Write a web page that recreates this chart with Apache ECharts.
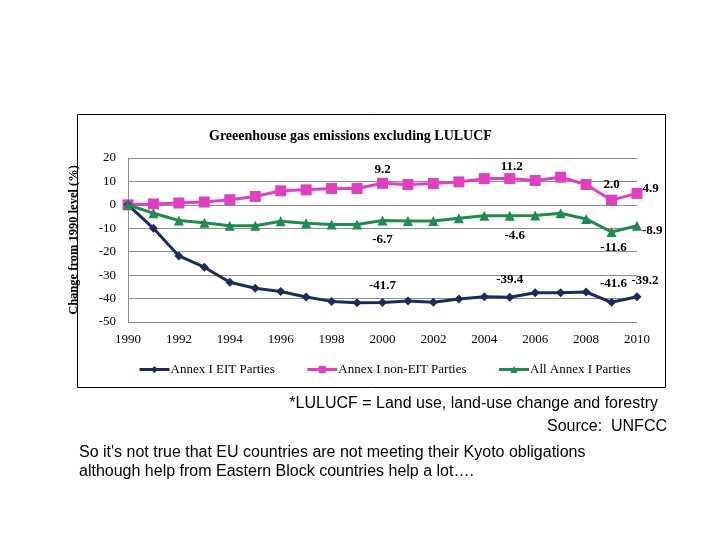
<!DOCTYPE html>
<html>
<head>
<meta charset="utf-8">
<script src="https://cdn.jsdelivr.net/npm/echarts@6/dist/echarts.min.js"></script>
<style>
  html, body { margin: 0; padding: 0; background: #fff; }
  #chart { width: 720px; height: 540px; }
</style>
</head>
<body>
<div id="chart"></div>
<script>
const years = ['1990', '1991', '1992', '1993', '1994', '1995', '1996', '1997', '1998', '1999', '2000',
  '2001', '2002', '2003', '2004', '2005', '2006', '2007', '2008', '2009', '2010']

const eitValues = [0, -10, -21.8, -26.6, -33, -35.6, -37, -39.3, -41.2, -41.8, -41.7,
  -41.0, -41.6, -40.2, -39.2, -39.4, -37.5, -37.5, -37.2, -41.6, -39.2]
const nonEitValues = [0, 0.4, 0.8, 1.2, 2.2, 3.6, 6.0, 6.4, 7.0, 7.0, 9.2,
  8.7, 9.1, 9.8, 11.2, 11.2, 10.4, 11.8, 8.7, 2.0, 4.9]
const allValues = [0, -3.6, -6.7, -7.6, -8.9, -8.9, -7.0, -7.9, -8.4, -8.4, -6.7,
  -6.9, -6.9, -5.7, -4.6, -4.6, -4.5, -3.6, -6.0, -11.6, -8.9]

const yTicks = [-50, -40, -30, -20, -10, 0, 10, 20]

// label placement per labelled year (position, distance, offset)
const eitLabels = {
  2000: ['top', 6, [0, 0]], 2005: ['top', 7, [0, 0]],
  2009: ['top', 8, [2, 0]], 2010: ['top', 5, [8, 0]]
}
const nonEitLabels = {
  2000: ['top', 2, [0, 0]], 2005: ['top', 0, [2, 0]],
  2009: ['top', 4, [0, 0]], 2010: ['right', 0, [0, -5]]
}
const allLabels = {
  2000: ['bottom', 8, [0, 0]], 2005: ['bottom', 9, [5, 0]],
  2009: ['bottom', 4, [2, 0]], 2010: ['right', 0, [0, 5]]
}

const serif = 'Liberation Serif'
const sans = 'Liberation Sans'

function withLabels(values, labels) {
  return values.map((v, i) => {
    const cfg = labels[years[i]]
    if (!cfg) return v
    return {
      value: v,
      label: { show: true, position: cfg[0], distance: cfg[1], offset: cfg[2], formatter: v.toFixed(1) }
    }
  })
}

const chart = echarts.init(document.getElementById('chart'))

const labelStyle = { fontFamily: serif, fontSize: 13, fontWeight: 'bold', color: '#000' }

chart.setOption({
  animation: false,
  backgroundColor: '#fff',
  title: {
    text: 'Greeenhouse gas emissions excluding LULUCF',
    left: 204,
    top: 124,
    textStyle: { fontFamily: serif, fontSize: 14, fontWeight: 'bold', color: '#000' }
  },
  grid: { left: 128, right: 83, top: 158, bottom: 218 },
  legend: {
    top: 358,
    left: 133,
    itemWidth: 30,
    itemHeight: 9,
    itemGap: 31,
    lineStyle: { width: 3 },
    textStyle: { fontFamily: serif, fontSize: 13, color: '#000', padding: [0, 0, 0, -4] },
    data: ['Annex I EIT Parties', 'Annex I non-EIT Parties', 'All Annex I Parties']
  },
  xAxis: {
    type: 'category',
    data: years,
    boundaryGap: false,
    axisLine: { lineStyle: { color: '#8c8c8c' } },
    axisTick: { show: false },
    axisLabel: { interval: 1, fontFamily: serif, fontSize: 13, color: '#000', margin: 11 }
  },
  yAxis: {
    type: 'value',
    min: yTicks[0],
    max: yTicks[yTicks.length - 1],
    interval: 10,
    name: 'Change from 1990 level (%)',
    nameLocation: 'middle',
    nameGap: 48,
    nameTextStyle: { fontFamily: serif, fontSize: 12.5, fontWeight: 'bold', color: '#000' },
    axisLine: { show: true, lineStyle: { color: '#8c8c8c' } },
    axisTick: { show: false },
    axisLabel: { fontFamily: serif, fontSize: 13, color: '#000', margin: 12 },
    splitLine: { lineStyle: { color: '#8c8c8c' } }
  },
  series: [
    {
      name: 'Annex I EIT Parties',
      type: 'line',
      data: withLabels(eitValues, eitLabels),
      symbol: 'diamond',
      symbolSize: 9,
      color: '#1b2c58',
      lineStyle: { width: 3, color: '#1b2c58' },
      label: labelStyle,
      z: 3
    },
    {
      name: 'Annex I non-EIT Parties',
      type: 'line',
      data: withLabels(nonEitValues, nonEitLabels),
      symbol: 'rect',
      symbolSize: 11,
      color: '#e040c0',
      lineStyle: { width: 3, color: '#e040c0' },
      label: labelStyle,
      z: 2
    },
    {
      name: 'All Annex I Parties',
      type: 'line',
      data: withLabels(allValues, allLabels),
      symbol: 'triangle',
      symbolSize: 10,
      color: '#1f8b4f',
      lineStyle: { width: 3, color: '#1f8b4f' },
      label: labelStyle,
      z: 4
    }
  ],
  graphic: [
    {
      type: 'rect',
      shape: { x: 77.5, y: 114.5, width: 588, height: 273 },
      style: { fill: 'none', stroke: '#000', lineWidth: 1 },
      silent: true
    },
    {
      type: 'text',
      right: 62,
      top: 396,
      style: { text: '*LULUCF = Land use, land-use change and forestry', font: '16px ' + sans, fill: '#000' }
    },
    {
      type: 'text',
      right: 53,
      top: 419,
      style: { text: 'Source:  UNFCC', font: '16px ' + sans, fill: '#000' }
    },
    {
      type: 'text',
      left: 79,
      top: 443,
      style: {
        text: "So it's not true that EU countries are not meeting their Kyoto obligations\nalthough help from Eastern Block countries help a lot….",
        font: '16px ' + sans,
        lineHeight: 19,
        fill: '#000'
      }
    }
  ]
})
</script>
</body>
</html>
